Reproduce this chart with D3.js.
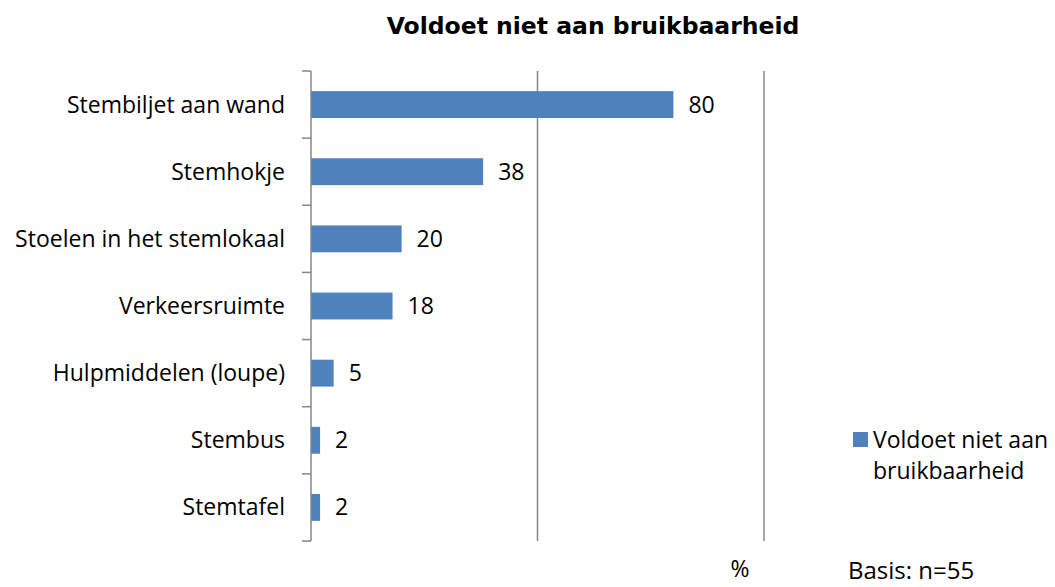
<html>
<head>
<meta charset="utf-8">
<title>Voldoet niet aan bruikbaarheid</title>
<style>
  body { margin: 0; background: #fff; }
  svg text { font-family: "Open Sans", "Liberation Sans", sans-serif; fill: #000; }
</style>
</head>
<body>
<script src="https://cdn.jsdelivr.net/npm/d3@7/dist/d3.min.js"></script>
<script>
var w = 1055, h = 587;
var categories = ['Stembiljet aan wand', 'Stemhokje', 'Stoelen in het stemlokaal', 'Verkeersruimte',
                  'Hulpmiddelen (loupe)', 'Stembus', 'Stemtafel'];
var values = [80, 38, 20, 18, 5, 2, 2];
var gridTicks = [0, 50, 100];

var plotLeft = 311, plotRight = 764, plotTop = 71, plotBottom = 541;
var fs = '23px';

var svg = d3.select('body').append('svg')
    .attr('width', w)
    .attr('height', h);

var x = d3.scaleLinear().domain([0, 100]).range([plotLeft, plotRight]);
var y = d3.scaleBand().domain(categories).range([plotTop, plotBottom]).paddingInner(0.6).paddingOuter(0.3);
var yb = d3.scaleBand().domain(categories).range([plotTop, plotBottom]);

// title
svg.append('text')
    .attr('x', 593).attr('y', 34)
    .attr('text-anchor', 'middle')
    .style('font-family', '"DejaVu Sans", Verdana, sans-serif')
    .style('font-weight', 'bold')
    .style('font-size', '23.5px')
    .text('Voldoet niet aan bruikbaarheid');

// gridlines (no labels)
svg.selectAll('line.grid')
    .data(gridTicks.slice(1))
    .enter().append('line')
    .attr('class', 'grid')
    .attr('x1', function(d){ return x(d); })
    .attr('x2', function(d){ return x(d); })
    .attr('y1', plotTop).attr('y2', plotBottom)
    .attr('stroke', '#868686')
    .attr('stroke-width', 1.5);

// bars
svg.selectAll('rect.bar')
    .data(values)
    .enter().append('rect')
    .attr('class', 'bar')
    .attr('x', x(0))
    .attr('y', function(d, i){ return y(categories[i]); })
    .attr('width', function(d){ return x(d) - x(0); })
    .attr('height', y.bandwidth())
    .attr('fill', '#4F81BD');

// value labels
svg.selectAll('text.val')
    .data(values)
    .enter().append('text')
    .attr('class', 'val')
    .attr('x', function(d){ return x(d) + 15; })
    .attr('y', function(d, i){ return y(categories[i]) + y.bandwidth() / 2; })
    .attr('dy', '0.35em')
    .style('font-size', fs)
    .text(function(d){ return d; });

// category axis
svg.append('line')
    .attr('x1', plotLeft).attr('x2', plotLeft)
    .attr('y1', plotTop).attr('y2', plotBottom)
    .attr('stroke', '#868686').attr('stroke-width', 1.5);

var boundaries = categories.map(function(c){ return yb(c); }).concat([plotBottom]);
svg.selectAll('line.tick')
    .data(boundaries)
    .enter().append('line')
    .attr('class', 'tick')
    .attr('x1', plotLeft - 9).attr('x2', plotLeft)
    .attr('y1', function(d){ return d; })
    .attr('y2', function(d){ return d; })
    .attr('stroke', '#868686').attr('stroke-width', 1.5);

svg.selectAll('text.cat')
    .data(categories)
    .enter().append('text')
    .attr('class', 'cat')
    .attr('x', plotLeft - 26)
    .attr('y', function(d){ return y(d) + y.bandwidth() / 2; })
    .attr('dy', '0.35em')
    .attr('text-anchor', 'end')
    .style('font-size', fs)
    .text(function(d){ return d; });

// legend
svg.append('rect')
    .attr('x', 853).attr('y', 432)
    .attr('width', 15).attr('height', 15)
    .attr('fill', '#4F81BD');
svg.append('text')
    .attr('x', 873).attr('y', 440).attr('dy', '0.35em')
    .style('font-size', fs)
    .text('Voldoet niet aan');
svg.append('text')
    .attr('x', 873).attr('y', 471).attr('dy', '0.35em')
    .style('font-size', fs)
    .text('bruikbaarheid');

// axis unit and basis note
svg.append('text')
    .attr('x', 740).attr('y', 569).attr('dy', '0.35em')
    .attr('text-anchor', 'middle')
    .style('font-size', fs)
    .text('%');
svg.append('text')
    .attr('x', 848).attr('y', 571).attr('dy', '0.35em')
    .style('font-size', '24px')
    .text('Basis: n=55');
</script>
</body>
</html>
